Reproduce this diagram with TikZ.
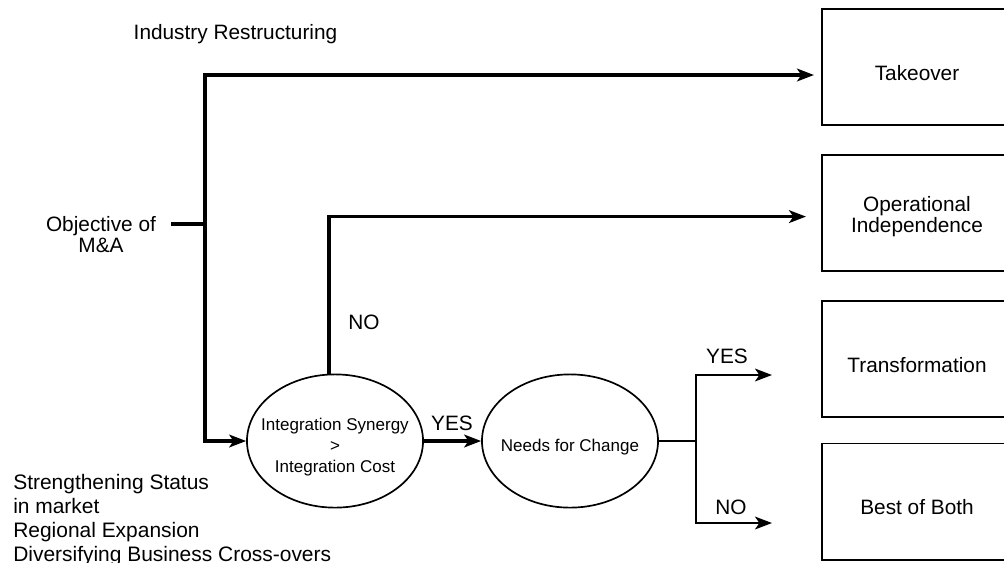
\documentclass[tikz,border=0pt]{standalone}
\usepackage{fontspec}
\setmainfont{Liberation Sans}
\usetikzlibrary{positioning,arrows.meta,calc,shapes.geometric}
\newcommand{\headroom}[1]{\rule{0pt}{#1}}

\begin{document}
\begin{tikzpicture}[
  x=0.025cm, y=-0.025cm,
  font=\fontsize{14.8}{15}\selectfont,
  outcome/.style={draw, line width=1.4pt, align=center, minimum width=4.75cm,
    minimum height=2.9cm},
  decision/.style={draw, ellipse, line width=1.2pt, align=center,
    inner xsep=-0.4cm, inner ysep=0pt, minimum width=4.4cm,
    minimum height=3.33cm, font=\fontsize{12.1}{15}\selectfont},
  lbl/.style={inner sep=0pt},
  arrow/.style={-{Stealth[length=12pt, width=9pt, inset=3pt]}, line width=2.4pt},
  link/.style={line width=1.4pt}
]
\useasboundingbox (0,0) rectangle (1004,562);
\clip (0,0) rectangle (1004,562);
% outcomes on the right
\node[outcome] (take) at (917,67) {\headroom{19pt}Takeover};
\node[outcome] (indep) at (917,213) {\headroom{16.4pt}Operational\\ Independence};
\node[outcome] (trans) at (917,359) {\headroom{19pt}Transformation};
\node[outcome] (best) at (917,501.5) {\headroom{19pt}Best of Both};
% tests
\node[decision] (synergy) at (335,441)
  {\headroom{17.4pt}Integration Synergy\\ >\\ Integration Cost};
\node[decision] (change) at (570,441) {\headroom{16.8pt}Needs for Change};
% texts on the left
\node[lbl] (restr) at (235.5,34) {Industry Restructuring};
\node[lbl, align=center] (obj) at (101,235) {Objective of\\ M\&A};
\node[lbl, align=left, anchor=north west, font=\fontsize{14.9}{17}\selectfont]
  (goals) at (13,474) {Strengthening Status\\ in market\\ Regional Expansion\\
  Diversifying Business Cross-overs};
% connectors
\coordinate (hub) at (205,224);
\draw[arrow, -] ($(obj.east |- hub)+(15,0)$) -- (hub);
\draw[arrow, shorten >=0.175cm] (hub) |- ([yshift=-0.2cm]take.west);
\draw[arrow] (hub) |- (synergy.west);
\draw[arrow, shorten >=0.375cm] ([xshift=-0.15cm]synergy.north)
  |- ([yshift=-0.09cm]indep.west);
\node[lbl] (no1) at (364,322) {NO};
\draw[arrow] (synergy) -- (change);
\node[lbl] (yes1) at (452,423) {YES};
\coordinate (fork) at (696,441);
\coordinate (yesend) at (772,375);
\coordinate (noend) at (772,523);
\draw[link] (change) -- (fork);
\draw[arrow, line width=1.9pt] (fork) |- (yesend);
\draw[arrow, line width=1.9pt] (fork) |- (noend);
\node[lbl] (yes2) at (727,356) {YES};
\node[lbl] (no2) at (731,507) {NO};
\end{tikzpicture}
\end{document}
